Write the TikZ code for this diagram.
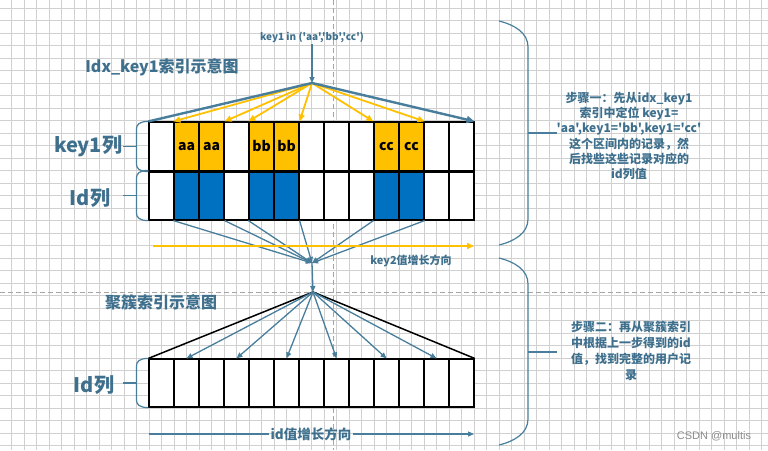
\documentclass[tikz,border=0pt]{standalone}
\usepackage{fontspec}
\usetikzlibrary{arrows.meta,calc}
\newfontfamily\zhfont{Noto Sans CJK SC}
\newfontfamily\arialfont{Liberation Sans}
\definecolor{tcol}{RGB}{62,112,142}
\definecolor{lcol}{RGB}{72,126,156}
\definecolor{ycol}{RGB}{255,192,0}
\definecolor{bcol}{RGB}{0,112,192}
\definecolor{gcol}{RGB}{208,208,208}
\definecolor{dcol}{RGB}{165,165,165}
\newcommand\rowbrace[1]{%
  \draw[brc] (#1.north west) .. controls ($(#1.north west)+(-9,0)$) and ($(#1.north west)+(-12,3)$) .. ($(#1.north west)+(-12,8)$)
    -- ($(#1.south west)+(-12,-8)$) .. controls ($(#1.south west)+(-12,-3)$) and ($(#1.south west)+(-9,0)$) .. (#1.south west);
  \draw[brc] ($(#1.west)+(-12,0)$) -- ($(#1.west)+(-25,0)$);}
\begin{document}
\begin{tikzpicture}[x=1pt,y=-1pt,
  gridline/.style={draw=gcol,line width=0.8pt},
  dashline/.style={draw=dcol,line width=0.9pt,dash pattern=on 5pt off 3pt},
  cellbox/.style={draw=black,line width=1.2pt,minimum width=25pt,minimum height=49pt,inner sep=0pt,
    font=\zhfont\bfseries\fontsize{14}{16}\selectfont},
  conn/.style={draw=lcol,line width=1.3pt,-{Triangle[length=6pt,width=5pt]}},
  thickconn/.style={draw=lcol,line width=2.4pt},
  yarrow/.style={draw=ycol,line width=1.8pt,-{Triangle[length=7pt,width=6pt]}},
  blackline/.style={draw=black,line width=1.5pt},
  brc/.style={draw=lcol,line width=1.2pt},
  lbl/.style={text=tcol,inner sep=1pt},
  steptxt/.style={text=tcol,align=center,inner sep=0pt,font=\zhfont\bfseries\fontsize{12}{15.2}\selectfont}]
\useasboundingbox (0,0) rectangle (768,450);
\fill[white] (0,0) rectangle (768,450);
% grid
\foreach \x in {11.7,24.2,...,768} \draw[gridline] (\x,0) -- (\x,450);
\foreach \y in {8.3,20.8,...,450} \draw[gridline] (0,\y) -- (768,\y);
\draw[dashline] (333,0) -- (333,450);
\draw[dashline] (0,292) -- (768,292);
% upper table
\foreach \i/\kf/\idf/\t in {1/white/white/{},2/ycol/bcol/aa,3/ycol/bcol/aa,4/white/white/{},5/ycol/bcol/bb,6/ycol/bcol/bb,7/white/white/{},8/white/white/{},9/white/white/{},10/ycol/bcol/cc,11/ycol/bcol/cc,12/white/white/{},13/white/white/{}} {
  \node[cellbox,fill=\kf] (k\i) at ({149+25*\i-12.5},146.5) {\t};
  \node[cellbox,fill=\idf] (i\i) at ({149+25*\i-12.5},195.5) {};
}
\draw[line width=2.4pt] (k1.south west) -- (k13.south east);
% lower table
\foreach \i in {1,...,13} \node[cellbox,fill=white,minimum height=48pt] (c\i) at ({149+25*\i-12.5},383) {};
% top query
\node[lbl,font=\zhfont\bfseries\fontsize{10}{12}\selectfont] (q) at (312,37) {key1 in ('aa','bb','cc')};
\coordinate (ap1) at (312,83);
\draw[conn] (q.south) -- (ap1);
\foreach \a in {k2.north west,k3.north east,k5.north west,k6.north east,k10.north west,k11.north east}
  \draw[yarrow] (ap1) -- (\a);
\draw[thickconn] (ap1) -- (k1.north west);
\draw[thickconn,-{Triangle[length=8pt,width=7pt]}] (ap1) -- (k13.north east);
% converge
\coordinate (cv) at (312,263);
\foreach \a in {i2.south west,i3.south east,i5.south west,i6.south east,i10.south west,i11.south east}
  \draw[conn] (\a) -- (cv);
\coordinate (ap2) at (313,292);
\draw[conn] (cv) -- (ap2);
\draw[blackline] (c1.north west) -- (ap2) -- (c13.north east);
\foreach \i in {2,4,...,12} \draw[conn] (ap2) -- (c\i.north);
% key2 direction
\coordinate (ys) at (153,246);
\coordinate (ye) at (474,246);
\draw[yarrow,line width=2.4pt] (ys) -- (ye);
\node[lbl,font=\zhfont\bfseries\fontsize{11}{13}\selectfont] (k2lab) at (411,261) {key2值增长方向};
% id direction
\coordinate (is) at (149,434);
\coordinate (ie) at (474,434);
\node[lbl,font=\zhfont\bfseries\fontsize{13.5}{16}\selectfont] (idlab) at (311,434) {id值增长方向};
\draw[lcol,line width=1.2pt] (is) -- (idlab.west);
\draw[conn,line width=1.2pt] (idlab.east) -- (ie);
% left labels and braces
\node[lbl,font=\zhfont\bfseries\fontsize{16}{19}\selectfont] (t1) at (162,67) {Idx\_key1索引示意图};
\node[lbl,font=\zhfont\bfseries\fontsize{20}{24}\selectfont] (t2) at (88,146) {key1列};
\node[lbl,font=\zhfont\bfseries\fontsize{20}{24}\selectfont] (t3) at (90,198) {Id列};
\node[lbl,font=\zhfont\bfseries\fontsize{16}{19}\selectfont] (t4) at (161,302) {聚簇索引示意图};
\node[lbl,font=\zhfont\bfseries\fontsize{20}{24}\selectfont] (t5) at (94,385) {Id列};
\rowbrace{k1}
\rowbrace{i1}
\rowbrace{c1}
% right braces
\draw[brc] (499,21) .. controls (515,25) and (528,33) .. (528,47) -- (528,219) .. controls (528,233) and (515,241) .. (499,245);
\draw[brc] (528,133) -- (557,133);
\draw[brc] (499,258) .. controls (515,262) and (528,270) .. (528,284) -- (528,419) .. controls (528,433) and (515,441) .. (499,445);
\draw[brc] (528,352) -- (557,352);
\node[steptxt] (s1) at (629,136) {步骤一：先从idx\_key1\\索引中定位 key1=\\'aa',key1='bb',key1='cc'\\这个区间内的记录，然\\后找些这些记录对应的\\id列值};
\node[steptxt,font=\zhfont\bfseries\fontsize{12}{16}\selectfont] (s2) at (631,351) {步骤二：再从聚簇索引\\中根据上一步得到的id\\值，找到完整的用户记\\录};
\node[font=\arialfont\fontsize{11}{13}\selectfont,text=black!45,inner sep=0pt] (wm) at (714,436) {CSDN @multis};
\end{tikzpicture}
\end{document}
